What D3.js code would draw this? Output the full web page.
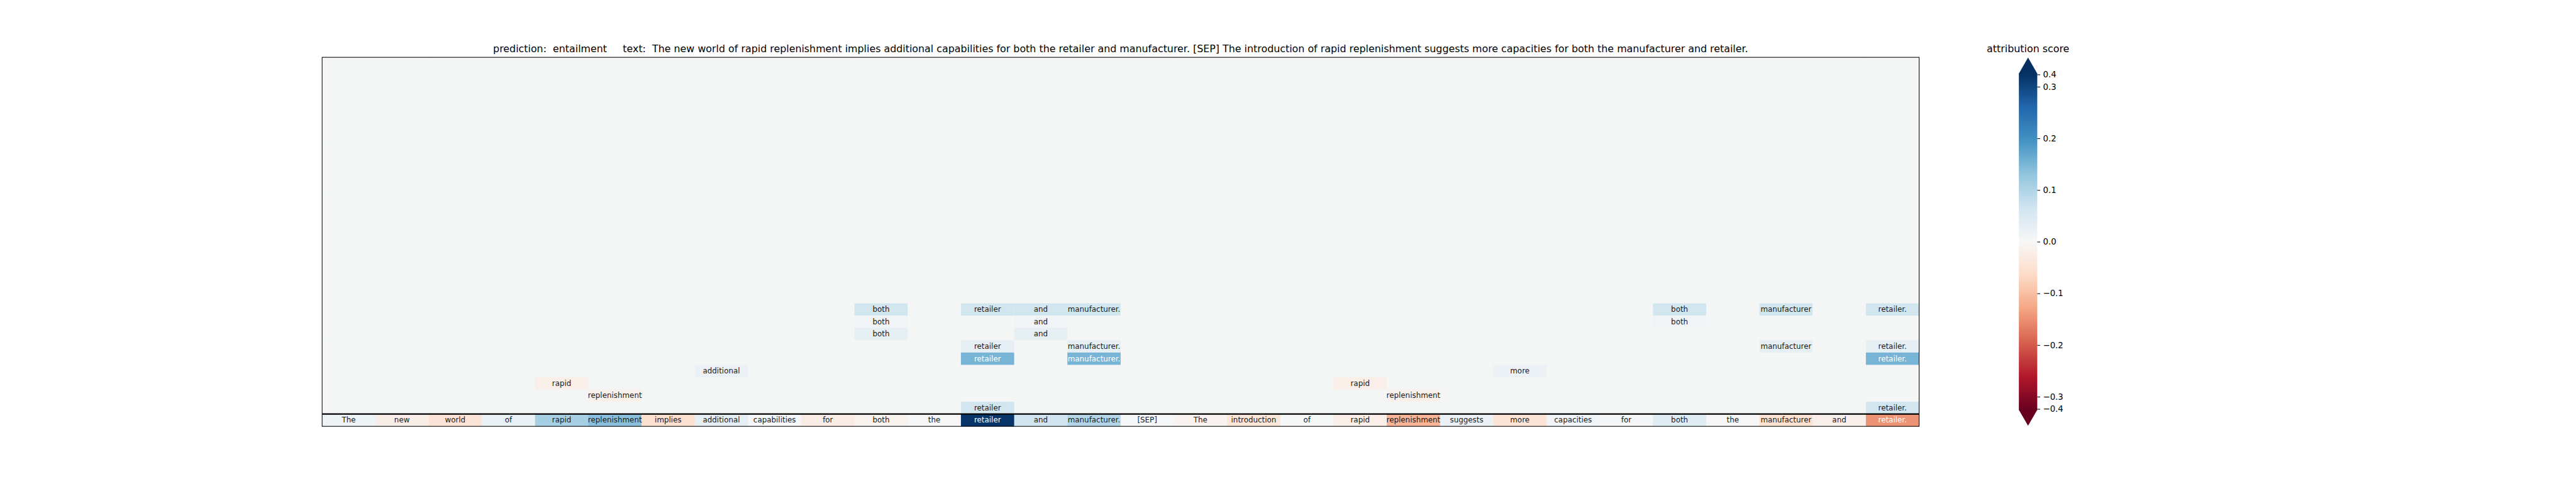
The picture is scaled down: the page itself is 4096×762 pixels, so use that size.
<!DOCTYPE html>
<html><head><meta charset="utf-8">
<script src="https://cdn.jsdelivr.net/npm/d3@7"></script>
<style>
body{margin:0;background:#fff;overflow:hidden}
svg{display:block}
text{font-family:"DejaVu Sans",sans-serif}
</style>
</head><body><svg id="chart"></svg>
<script>
// ---------------- data ----------------
const predictionLabel = "entailment";
const sentenceText = "The new world of rapid replenishment implies additional capabilities for both the retailer and manufacturer. [SEP] The introduction of rapid replenishment suggests more capacities for both the manufacturer and retailer.";
const tokens = ["The","new","world","of","rapid","replenishment","implies","additional","capabilities","for","both","the","retailer","and","manufacturer.","[SEP]","The","introduction","of","rapid","replenishment","suggests","more","capacities","for","both","the","manufacturer","and","retailer."];
const tokenScores = [0.015,-0.022,-0.044,0.022,0.11,0.137,-0.053,0.033,0.006,-0.026,-0.012,0.002,0.382,0.065,0.095,0.003,-0.01,-0.04,0.001,-0.02,-0.112,0.02,-0.045,0.01,0.006,0.04,-0.002,-0.05,-0.018,-0.147];
const upperRowCount = 29;
const backgroundScore = 0.005;
// highlighted cells in the upper rows
const spanRows   = [20,20,20,20,20,20,20, 21,21,21, 22,22, 23,23,23,23, 24,24,24, 25,25, 26,26, 27,27, 28,28];
const spanCols   = [10,12,13,14,25,27,29, 10,13,25, 10,13, 12,14,27,29, 12,14,29, 7,22, 4,19, 5,20, 12,29];
const spanScores = [0.063,0.063,0.063,0.063,0.063,0.063,0.063, 0.012,0.012,0.012, 0.03,0.03, 0.03,0.03,0.03,0.03, 0.152,0.152,0.152, 0.02,0.02, -0.02,-0.02, -0.017,-0.017, 0.063,0.063];
const cbTicks = [-0.4,-0.3,-0.2,-0.1,0,0.1,0.2,0.3,0.4];
const cbDomain = [-0.41,-0.3,0.3,0.41];
const rdbuColors = ["#67001f","#b2182b","#d6604d","#f4a582","#fddbc7","#f7f7f7","#d1e5f0","#92c5de","#4393c3","#2166ac","#053061"];

// ---------------- layout (reference px) ----------------
const S = 4096/4300;
const plot = {x0:537.7, x1:3203.5, y0:95.7, y1:712};
const cb = {x0:3370, x1:3400.7, y0:122.3, y1:685, tipTop:96, tipBot:711};
const endFrac = 0.04;

const svg = d3.select("#chart").attr("width",4096).attr("height",762);
const g = svg.append("g").attr("transform",`scale(${S})`);

const nRows = upperRowCount + 1;
const x = d3.scaleBand().domain(d3.range(tokens.length)).range([plot.x0, plot.x1]);
const y = d3.scaleBand().domain(d3.range(nRows)).range([plot.y0, plot.y1]);

const tNorm = d3.scaleLinear().domain(cbDomain).range([0,endFrac,1-endFrac,1]).clamp(true);
const cmap = d3.scaleLinear().domain(d3.range(11).map(i=>i/10)).range(rdbuColors).interpolate(d3.interpolateRgb);
const color = v => cmap(tNorm(v));
const textColor = v => Math.abs(v) > 0.14 ? "#ffffff" : "#1a1a1a";

// background cells
const bgCells = [];
for (let r=0;r<upperRowCount;r++) for (let c=0;c<tokens.length;c++) bgCells.push({r,c,v:backgroundScore});
g.append("g").selectAll("rect").data(bgCells).join("rect")
  .attr("x",d=>x(d.c)).attr("y",d=>y(d.r))
  .attr("width",x.bandwidth()+0.5).attr("height",y.bandwidth()+0.5)
  .attr("fill",d=>color(d.v));

// highlighted cells
const spans = spanRows.map((r,i)=>({r, c:spanCols[i], v:spanScores[i]}));
const sg = g.append("g");
sg.selectAll("rect").data(spans).join("rect")
  .attr("x",d=>x(d.c)).attr("y",d=>y(d.r))
  .attr("width",x.bandwidth()).attr("height",y.bandwidth())
  .attr("fill",d=>color(d.v));
sg.selectAll("text").data(spans).join("text")
  .attr("x",d=>x(d.c)+x.bandwidth()/2).attr("y",d=>y(d.r)+y.bandwidth()/2)
  .attr("text-anchor","middle").attr("dominant-baseline","central")
  .attr("font-size",12.5).attr("fill",d=>textColor(d.v))
  .text(d=>tokens[d.c]);

// token row
const tokRow = upperRowCount;
const tg = g.append("g");
tg.selectAll("rect").data(tokens).join("rect")
  .attr("x",(d,i)=>x(i)).attr("y",y(tokRow))
  .attr("width",x.bandwidth()+0.5).attr("height",y.bandwidth())
  .attr("fill",(d,i)=>color(tokenScores[i]));
tg.selectAll("text").data(tokens).join("text")
  .attr("x",(d,i)=>x(i)+x.bandwidth()/2).attr("y",y(tokRow)+y.bandwidth()/2)
  .attr("text-anchor","middle").attr("dominant-baseline","central")
  .attr("font-size",12.5).attr("fill",(d,i)=>textColor(tokenScores[i]))
  .text(d=>d);

// separator + frame
g.append("line").attr("x1",plot.x0).attr("x2",plot.x1)
  .attr("y1",y(tokRow)).attr("y2",y(tokRow))
  .attr("stroke","#000").attr("stroke-width",2.2);
g.append("rect").attr("x",plot.x0).attr("y",plot.y0)
  .attr("width",plot.x1-plot.x0).attr("height",plot.y1-plot.y0)
  .attr("fill","none").attr("stroke","#000").attr("stroke-width",1.1);

// title
g.append("text").attr("x",(plot.x0+plot.x1)/2).attr("y",87.3)
  .attr("text-anchor","middle").attr("font-size",16.67).attr("fill","#000")
  .attr("xml:space","preserve").style("white-space","pre")
  .text(`prediction:  ${predictionLabel}     text:  ${sentenceText}`);

// colorbar
const defs = svg.append("defs");
const grad = defs.append("linearGradient").attr("id","cbgrad")
  .attr("x1",0).attr("y1",1).attr("x2",0).attr("y2",0);
grad.selectAll("stop").data(rdbuColors).join("stop")
  .attr("offset",(d,i)=>i/10).attr("stop-color",d=>d);
const cbY = d3.scaleLinear().domain(cbDomain)
  .range([cb.y1, cb.y1-endFrac*(cb.y1-cb.y0), cb.y0+endFrac*(cb.y1-cb.y0), cb.y0]);
const cx = (cb.x0+cb.x1)/2;
g.append("path").attr("d",`M${cb.x0},${cb.y0+0.5}L${cx},${cb.tipTop}L${cb.x1},${cb.y0+0.5}Z`)
  .attr("fill",rdbuColors[10]);
g.append("path").attr("d",`M${cb.x0},${cb.y1-0.5}L${cx},${cb.tipBot}L${cb.x1},${cb.y1-0.5}Z`)
  .attr("fill",rdbuColors[0]);
g.append("rect").attr("x",cb.x0).attr("y",cb.y0).attr("width",cb.x1-cb.x0).attr("height",cb.y1-cb.y0)
  .attr("fill","url(#cbgrad)");
const fmt = v => (v<0?"\u2212":"") + Math.abs(v).toFixed(1);
const axis = d3.axisRight(cbY).tickValues(cbTicks).tickFormat(fmt).tickSize(4.86).tickPadding(4.86);
const ag = g.append("g").attr("transform",`translate(${cb.x1},0)`).call(axis);
ag.select(".domain").remove();
ag.selectAll(".tick line").attr("stroke","#000").attr("stroke-width",1.1);
ag.selectAll(".tick text").attr("font-size",13.9).attr("font-family","DejaVu Sans").attr("fill","#000");
g.append("text").attr("x",cx).attr("y",87.3).attr("text-anchor","middle")
  .attr("font-size",16.67).attr("fill","#000").text("attribution score");
</script>
</body></html>
